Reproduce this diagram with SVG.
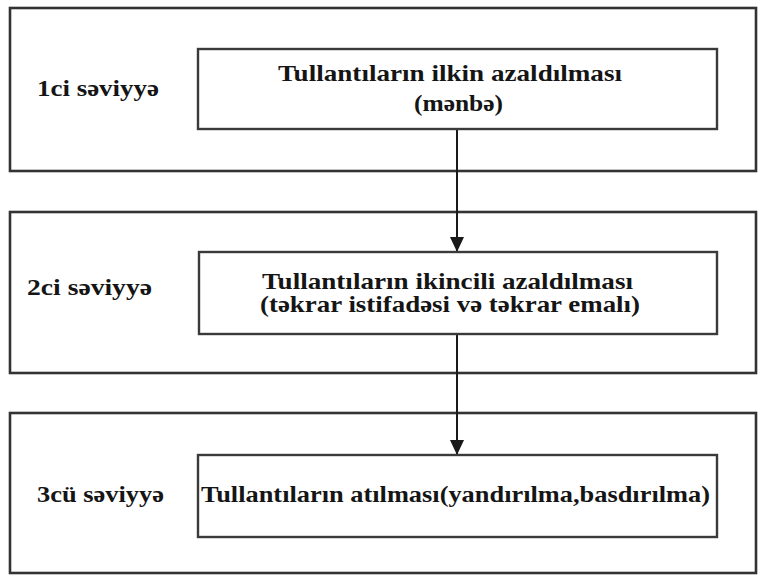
<svg xmlns="http://www.w3.org/2000/svg" width="758" height="575" viewBox="0 0 758 575">
  <style>
    .level { fill: none; stroke: #333333; stroke-width: 2.6; }
    .box { fill: #ffffff; stroke: #3a3a3a; stroke-width: 2.4; }
    .link { stroke: #1a1a1a; stroke-width: 2; fill: none; }
  </style>
  <defs>
    <marker id="arrow" viewBox="0 0 15 14" refX="15" refY="7" markerWidth="15" markerHeight="14" markerUnits="userSpaceOnUse" orient="auto">
      <path d="M0,0 L15,7 L0,14 Z" fill="#1a1a1a"/>
    </marker>
  </defs>
  <rect width="758" height="575" fill="#ffffff"/>

  <!-- level frames with their labels -->
  <g id="level1">
    <rect class="level" x="10" y="8" width="746" height="163"/>
    <text x="37" y="96" font-family="Liberation Serif" font-weight="bold" font-size="23" fill="#151515" textLength="122" lengthAdjust="spacingAndGlyphs">1ci səviyyə</text>
  </g>
  <g id="level2">
    <rect class="level" x="10" y="212" width="746" height="161"/>
    <text x="27" y="295" font-family="Liberation Serif" font-weight="bold" font-size="23" fill="#151515" textLength="125" lengthAdjust="spacingAndGlyphs">2ci səviyyə</text>
  </g>
  <g id="level3">
    <rect class="level" x="10" y="413" width="746" height="160"/>
    <text x="37" y="502" font-family="Liberation Serif" font-weight="bold" font-size="23" fill="#151515" textLength="127" lengthAdjust="spacingAndGlyphs">3cü səviyyə</text>
  </g>

  <g id="connectors">
    <line class="link" x1="457" y1="129" x2="457" y2="252" marker-end="url(#arrow)"/>
    <line class="link" x1="457" y1="334" x2="457" y2="455" marker-end="url(#arrow)"/>
  </g>

  <!-- step boxes -->
  <g id="node1">
    <rect class="box" x="198" y="49" width="519" height="80"/>
    <text x="278" y="81" font-family="Liberation Serif" font-weight="bold" font-size="23" fill="#151515" textLength="344" lengthAdjust="spacingAndGlyphs">Tullantıların ilkin azaldılması</text>
    <text x="414" y="111" font-family="Liberation Serif" font-weight="bold" font-size="23" fill="#151515" textLength="89" lengthAdjust="spacingAndGlyphs">(mənbə)</text>
  </g>
  <g id="node2">
    <rect class="box" x="199" y="252" width="518" height="82"/>
    <text x="262" y="289" font-family="Liberation Serif" font-weight="bold" font-size="23" fill="#151515" textLength="371" lengthAdjust="spacingAndGlyphs">Tullantıların ikincili azaldılması</text>
    <text x="260" y="312" font-family="Liberation Serif" font-weight="bold" font-size="23" fill="#151515" textLength="380" lengthAdjust="spacingAndGlyphs">(təkrar istifadəsi və təkrar emalı)</text>
  </g>
  <g id="node3">
    <rect class="box" x="198" y="455" width="519" height="82"/>
    <text x="201" y="502" font-family="Liberation Serif" font-weight="bold" font-size="23" fill="#151515" textLength="509" lengthAdjust="spacingAndGlyphs">Tullantıların atılması(yandırılma,basdırılma)</text>
  </g>
</svg>
